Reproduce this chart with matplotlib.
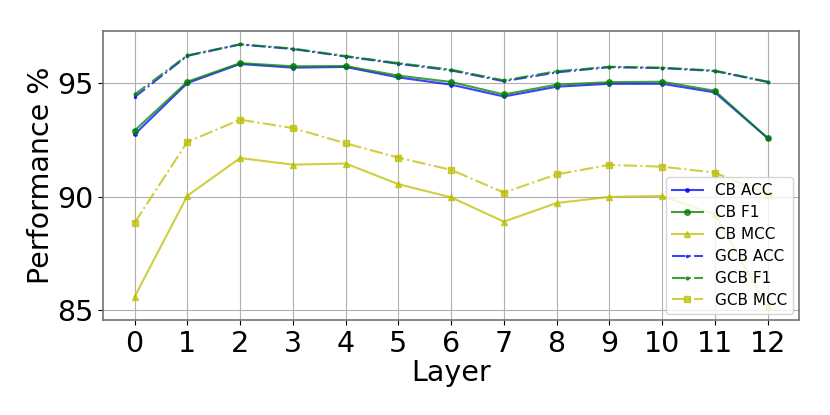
import matplotlib
matplotlib.use("Agg")
import matplotlib.pyplot as plt

layers = list(range(13))

cb_acc = [92.74, 95.00, 95.84, 95.68, 95.71, 95.25, 94.93, 94.41, 94.84, 94.97, 94.97, 94.59, 92.58]
cb_f1 = [92.91, 95.06, 95.88, 95.74, 95.75, 95.33, 95.05, 94.50, 94.93, 95.04, 95.06, 94.66, 92.58]
cb_mcc = [85.59, 90.04, 91.70, 91.41, 91.46, 90.55, 89.97, 88.90, 89.72, 89.99, 90.03, 89.22, 85.15]
gcb_acc = [94.38, 96.20, 96.70, 96.50, 96.17, 95.85, 95.56, 95.08, 95.47, 95.70, 95.66, 95.53, 95.05]
gcb_f1 = [94.50, 96.22, 96.71, 96.52, 96.19, 95.88, 95.59, 95.12, 95.52, 95.72, 95.68, 95.55, 95.06]
gcb_mcc = [88.85, 92.41, 93.39, 93.02, 92.35, 91.72, 91.18, 90.18, 90.98, 91.40, 91.32, 91.06, 90.09]

fig = plt.figure(figsize=(8.3, 4.15), dpi=100)
ax = fig.add_axes([0.124, 0.229, 0.839, 0.696])

a = 0.75
ax.plot(layers, cb_acc, 'b-', marker='.', markersize=5, alpha=a, label='CB ACC')
ax.plot(layers, cb_f1, 'g-', marker='o', markersize=4, alpha=a, label='CB F1')
ax.plot(layers, cb_mcc, 'y-', marker='^', markersize=4, alpha=a, label='CB MCC')
ax.plot(layers, gcb_acc, 'b-.', marker='.', markersize=3, alpha=a, label='GCB ACC')
ax.plot(layers, gcb_f1, 'g-.', marker='.', markersize=4, alpha=a, label='GCB F1')
ax.plot(layers, gcb_mcc, 'y-.', marker='s', markersize=4, alpha=a, label='GCB MCC')

ax.set_xticks(layers)
ax.set_yticks([85, 90, 95])
ax.tick_params(labelsize=20.5)
ax.set_xlabel('Layer', fontsize=20.5, labelpad=1)
ax.set_ylabel('Performance %', fontsize=20.5, labelpad=1)
ax.grid(True)
for s in ax.spines.values():
    s.set_color('0.45')
    s.set_linewidth(1.2)

ax.legend(loc='lower right', fontsize=11, handlelength=2.0, labelspacing=0.45,
          borderaxespad=0.4)

fig.savefig('out.png', dpi=100)
